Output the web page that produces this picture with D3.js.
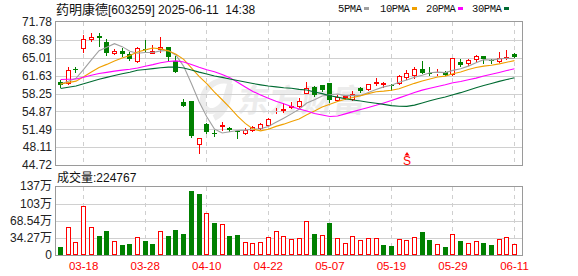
<!DOCTYPE html>
<html>
<head>
<meta charset="utf-8">
<script src="https://cdn.jsdelivr.net/npm/d3@7/dist/d3.min.js"></script>
<style>
  body { margin: 0; background: #fff; }
  svg { display: block; }
  text { font-family: "Liberation Sans", Arial, "Noto Sans CJK SC", sans-serif; }
</style>
</head>
<body>
<div id="chart-wrapper"></div>
<script>
// Data
const dates = [
  "03-13","03-14","03-17","03-18","03-19","03-20","03-21","03-24","03-25","03-26",
  "03-27","03-28","03-31","04-01","04-02","04-03","04-07","04-08","04-09","04-10",
  "04-11","04-14","04-15","04-16","04-17","04-18","04-21","04-22","04-23","04-24",
  "04-25","04-28","04-29","04-30","05-06","05-07","05-08","05-09","05-12","05-13",
  "05-14","05-15","05-16","05-19","05-20","05-21","05-22","05-23","05-26","05-27",
  "05-28","05-29","05-30","06-03","06-04","06-05","06-06","06-09","06-10","06-11"
];
const opens = [
  60.43,60.29,62.95,66.8,68.62,69.13,68.05,65.97,66.35,65.67,
  64.46,66.65,65.97,66.67,67.0,64.46,56.7,56.83,48.64,52.42,
  50.8,52.05,51.78,51.1,50.72,51.3,51.67,52.3,54.85,55.05,
  55.7,55.9,58.4,59.55,59.86,60.18,57.02,57.55,57.15,59.23,
  59.05,60.2,60.0,59.86,60.18,61.43,61.75,62.83,62.15,62.1,
  62.25,61.94,64.27,63.97,64.72,65.35,64.5,64.46,64.91,65.67
];
const highs = [
  60.81,63.32,63.32,69.32,69.64,69.64,68.51,66.67,66.8,66.05,
  67.11,68.37,67.43,69.0,67.11,65.35,57.21,56.83,49.77,52.61,
  51.34,52.92,51.9,51.15,51.67,52.1,52.73,53.56,55.45,56.4,
  56.7,57.34,60.48,59.7,59.95,60.29,57.97,57.97,58.72,59.54,
  60.1,61.13,60.35,60.05,61.75,62.7,63.32,64.4,63.21,62.83,
  62.45,65.0,64.78,64.78,65.54,65.35,64.72,66.16,66.48,65.86
];
const lows = [
  59.54,60.05,62.38,66.16,68.24,67.24,65.54,65.73,65.4,64.59,
  64.27,66.16,65.86,66.16,64.59,62.38,55.94,50.08,47.05,50.72,
  50.21,51.34,51.2,49.9,50.59,51.2,51.48,52.2,54.5,54.81,
  55.45,55.75,58.29,57.8,58.8,56.7,56.89,57.15,57.02,58.59,
  58.95,59.86,59.54,58.91,60.05,61.05,61.13,62.1,61.75,61.8,
  61.7,61.8,63.5,63.64,64.27,63.97,63.97,64.27,64.72,65.1
];
const closes = [
  59.92,62.7,62.85,68.51,69.0,68.7,65.86,66.35,65.67,64.72,
  66.8,66.55,66.35,67.11,65.1,62.38,55.94,50.21,49.77,51.02,
  50.72,52.25,51.29,51.02,51.34,51.82,52.42,53.37,55.0,55.25,
  55.9,56.89,59.23,57.97,58.91,57.02,57.65,57.72,58.16,58.72,
  59.99,60.35,60.29,59.67,61.56,62.19,62.82,62.19,62.07,62.19,
  61.75,64.91,63.7,64.59,65.35,64.72,64.46,64.91,65.1,65.22
];
// volume in 万 (10k lots)
const volumes = [
  16.6,56.0,26.6,98.6,56.0,38.6,48.6,28.6,20.6,22.6,
  36.0,28.6,22.6,48.6,38.6,50.6,42.6,128.6,123.2,84.0,
  65.2,62.6,38.6,40.6,26.6,24.6,26.6,36.6,48.6,38.6,
  32.6,34.6,68.6,42.6,40.6,65.2,34.6,24.6,38.6,30.6,
  34.6,34.6,20.6,18.6,32.6,30.6,36.6,46.6,30.6,22.6,
  16.6,42.6,28.6,24.6,28.6,24.6,20.6,32.6,36.6,22.48
];
const ma5 = [
  60.04,60.56,61.12,62.81,64.6,66.35,66.98,67.68,67.12,66.26,
  65.88,66.02,66.02,66.31,66.38,65.5,63.38,60.15,56.68,53.86,
  51.53,50.79,51.01,51.26,51.32,51.54,51.58,51.99,52.79,53.57,
  54.39,55.28,56.45,57.05,57.78,58.0,58.16,57.85,57.89,57.85,
  58.45,58.99,59.5,59.8,60.37,60.81,61.31,61.69,62.17,62.29,
  62.2,62.62,62.92,63.43,64.06,64.65,64.56,64.81,64.91,64.88
];
const ma10 = [
  60.05,60.31,60.59,61.43,62.32,63.18,63.76,64.39,64.95,65.42,
  66.12,66.5,66.85,66.7,66.32,65.69,64.7,63.08,61.49,60.12,
  58.51,57.07,55.57,53.96,52.59,51.52,51.18,51.5,52.03,52.45,
  52.97,53.44,54.23,54.93,55.69,56.2,56.72,57.16,57.48,57.82,
  58.23,58.58,58.7,58.88,59.14,59.66,60.17,60.62,61.01,61.36,
  61.54,61.99,62.31,62.8,63.18,63.43,63.59,63.86,64.17,64.47
];
const ma20 = [
  60.9,60.95,61.0,61.34,61.7,62.05,62.25,62.48,62.68,62.83,
  63.08,63.4,63.71,64.06,64.31,64.43,64.22,63.73,63.21,62.76,
  62.36,61.83,61.25,60.37,59.49,58.65,57.98,57.33,56.8,56.33,
  55.78,55.3,54.94,54.48,54.18,53.91,53.99,54.4,54.82,55.21,
  55.6,56.01,56.47,56.91,57.42,57.93,58.45,58.89,59.25,59.59,
  59.89,60.29,60.51,60.84,61.16,61.55,61.88,62.24,62.59,62.92
];
const ma30 = [
  59.2,59.43,59.67,60.09,60.53,60.96,61.3,61.65,61.98,62.28,
  62.64,62.8,62.95,63.13,63.24,63.26,63.07,62.69,62.29,61.93,
  61.56,61.3,61.01,60.71,60.42,60.14,59.89,59.67,59.5,59.33,
  59.23,59.03,58.91,58.55,58.22,57.83,57.56,57.27,57.02,56.82,
  56.6,56.39,56.19,55.95,55.83,55.82,56.05,56.47,56.88,57.26,
  57.58,58.0,58.41,58.87,59.34,59.76,60.16,60.55,60.89,61.22
];
const maNames = ["5PMA", "10PMA", "20PMA", "30PMA"];
const maColors = ["#a0a0a0", "#f0a000", "#ff00ff", "#006b32"];
const priceTicks = [71.78, 68.39, 65.01, 61.63, 58.25, 54.87, 51.49, 48.11, 44.72];
const volumeTicks = [137.08, 102.81, 68.54, 34.27, 0];
const volumeTickLabels = ["137万", "103万", "68.54万", "34.27万", "0"];
const dateTicks = ["03-18", "03-28", "04-10", "04-22", "05-07", "05-19", "05-29", "06-11"];
const signalDates = ["05-21"];
const signalLabels = ["S"];
const stockName = "药明康德";
const titleRest = "[603259] 2025-06-11  14:38";
const lastVolume = "224767";

const red = "#ff0000";
const green = "#008000";

// Chart dimensions
const dimensions = {
  width: 578,
  height: 276,
  left: 55,
  right: 522,
  price: { top: 22, bottom: 165 },
  volume: { top: 187, bottom: 255 },
};

const wrapper = d3
  .select("#chart-wrapper")
  .append("svg")
  .attr("width", dimensions.width)
  .attr("height", dimensions.height);

// Scales
const xScale = d3.scalePoint().domain(dates).range([60.6, 514.5]);
const yScale = d3
  .scaleLinear()
  .domain([44.72, 71.78])
  .range([dimensions.price.bottom, dimensions.price.top]);
const vScale = d3
  .scaleLinear()
  .domain([0, 137.08])
  .range([dimensions.volume.bottom, dimensions.volume.top]);

const px = (v) => Math.round(v) + 0.5;

// Watermark
const mark = wrapper.append("g").attr("fill", "#ececec");
mark
  .append("text")
  .attr("x", 238)
  .attr("y", 112)
  .attr("transform", "skewX(-8) translate(14,0)")
  .style("font-family", "'Noto Sans CJK SC', sans-serif")
  .style("font-weight", "bold")
  .style("font-size", "32px")
  .text("东方财富");
mark
  .append("path")
  .attr("fill", "none")
  .attr("stroke", "#ececec")
  .attr("stroke-width", 6)
  .attr("d", "M232,82 C215,76 198,92 204,106 C209,116 222,110 226,98 L230,84 C229,100 226,112 214,118");

// Grid lines
const grid = wrapper.append("g").attr("shape-rendering", "crispEdges");
grid
  .selectAll(".price-grid")
  .data(priceTicks.slice(1, -1))
  .join("line")
  .attr("x1", dimensions.left)
  .attr("x2", dimensions.right)
  .attr("y1", (d) => px(yScale(d)))
  .attr("y2", (d) => px(yScale(d)))
  .attr("stroke", "#d0d0d0");
grid
  .selectAll(".vol-grid")
  .data(volumeTicks.slice(1, -1))
  .join("line")
  .attr("x1", dimensions.left)
  .attr("x2", dimensions.right)
  .attr("y1", (d) => px(vScale(d)))
  .attr("y2", (d) => px(vScale(d)))
  .attr("stroke", "#d0d0d0");
[dimensions.price, dimensions.volume].forEach((panel) => {
  grid
    .append("g")
    .selectAll("line")
    .data(dateTicks)
    .join("line")
    .attr("x1", (d) => px(xScale(d) - 0.5))
    .attr("x2", (d) => px(xScale(d) - 0.5))
    .attr("y1", panel.top)
    .attr("y2", panel.bottom)
    .attr("stroke", "#cfcfcf")
    .attr("stroke-dasharray", "4,4");
  grid
    .append("rect")
    .attr("x", dimensions.left + 0.5)
    .attr("y", panel.top - 0.5)
    .attr("width", dimensions.right - dimensions.left)
    .attr("height", panel.bottom - panel.top + 1)
    .attr("fill", "none")
    .attr("stroke", "#9a9a9a");
});

// Candles
const bars = dates.map((d, i) => ({
  date: d,
  open: opens[i],
  high: highs[i],
  low: lows[i],
  close: closes[i],
  volume: volumes[i],
  up: i === 0 ? closes[i] >= opens[i] : closes[i] >= closes[i - 1],
}));

const candles = wrapper
  .append("g")
  .attr("shape-rendering", "crispEdges")
  .selectAll("g")
  .data(bars)
  .join("g");
candles.each(function (d) {
  const g = d3.select(this);
  const left = Math.round(xScale(d.date) - 2.5);
  const cx = left + 2.5;
  const rise = d.close >= d.open;
  const color = rise ? red : green;
  const top = Math.round(yScale(Math.max(d.open, d.close)));
  const bottom = Math.round(yScale(Math.min(d.open, d.close)));
  const hi = Math.round(yScale(d.high));
  const lo = Math.round(yScale(d.low));
  if (rise) {
    g.append("line").attr("x1", cx).attr("x2", cx).attr("y1", hi).attr("y2", top).attr("stroke", color);
    g.append("line").attr("x1", cx).attr("x2", cx).attr("y1", bottom + 1).attr("y2", lo + 1).attr("stroke", color);
    g.append("rect")
      .attr("x", left + 0.5)
      .attr("y", top + 0.5)
      .attr("width", 4)
      .attr("height", Math.max(bottom - top, 0))
      .attr("fill", "#fff")
      .attr("stroke", color);
  } else {
    g.append("line").attr("x1", cx).attr("x2", cx).attr("y1", hi).attr("y2", lo + 1).attr("stroke", color);
    g.append("rect")
      .attr("x", left)
      .attr("y", top)
      .attr("width", 5)
      .attr("height", Math.max(bottom - top, 1))
      .attr("fill", color);
  }
});

// Moving averages
const maSeries = [ma5, ma10, ma20, ma30];
const lineGenerator = d3
  .line()
  .x((d, i) => xScale(dates[i]))
  .y((d) => yScale(d));
wrapper
  .append("g")
  .selectAll("path")
  .data(maSeries)
  .join("path")
  .attr("d", (d) => lineGenerator(d))
  .attr("fill", "none")
  .attr("stroke", (d, i) => maColors[i])
  .attr("stroke-width", 1.1);

// Volume bars
const volumeBars = wrapper
  .append("g")
  .attr("shape-rendering", "crispEdges")
  .selectAll("rect")
  .data(bars)
  .join("rect")
  .each(function (d) {
    const left = Math.round(xScale(d.date) - 2.5);
    const top = Math.round(vScale(d.volume));
    const bottom = dimensions.volume.bottom;
    const r = d3.select(this);
    if (d.up) {
      r.attr("x", left + 0.5)
        .attr("y", top + 0.5)
        .attr("width", 4)
        .attr("height", bottom - top - 1)
        .attr("fill", "#fff")
        .attr("stroke", red);
    } else {
      r.attr("x", left)
        .attr("y", top)
        .attr("width", 5)
        .attr("height", bottom - top)
        .attr("fill", green);
    }
  });

// Signal marker
const signals = wrapper
  .append("g")
  .selectAll("g")
  .data(signalDates)
  .join("g")
  .attr("transform", (d) => `translate(${Math.round(xScale(d))},0)`);
signals.append("path").attr("d", "M-2.5,155.5 L2.5,155.5 L0,152 Z").attr("fill", red);
signals
  .append("text")
  .attr("y", 165)
  .attr("text-anchor", "middle")
  .attr("fill", red)
  .style("font-size", "12px")
  .text((d, i) => signalLabels[i]);

// Axes labels
const labels = wrapper.append("g").attr("fill", "#222");
labels
  .selectAll(".price-label")
  .data(priceTicks)
  .join("text")
  .attr("x", 52)
  .attr("y", (d) => yScale(d))
  .attr("dy", "0.36em")
  .attr("text-anchor", "end")
  .style("font-size", "12px")
  .text((d) => d.toFixed(2));
labels
  .selectAll(".vol-label")
  .data(volumeTicks)
  .join("text")
  .attr("x", 52)
  .attr("y", (d) => vScale(d) - (d === volumeTicks[0] ? 1.5 : 0))
  .attr("dy", "0.36em")
  .attr("text-anchor", "end")
  .style("font-size", "12px")
  .text((d, i) => volumeTickLabels[i]);
wrapper
  .append("g")
  .selectAll("text")
  .data(dateTicks)
  .join("text")
  .attr("x", (d) => xScale(d))
  .attr("y", 270)
  .attr("text-anchor", "middle")
  .attr("fill", red)
  .style("font-size", "11.5px")
  .text((d) => d);

// Title, volume caption and legend
const title = wrapper.append("text").attr("x", 56).attr("y", 14).attr("fill", "#111").style("font-size", "12px");
title.append("tspan").style("font-size", "13px").style("font-family", "'Noto Sans CJK SC', sans-serif").text(stockName);
title.append("tspan").style("white-space", "pre").attr("xml:space", "preserve").text(titleRest);

const caption = wrapper.append("text").attr("x", 57).attr("y", 182).attr("fill", "#111").style("font-size", "12px");
caption.append("tspan").style("font-family", "'Noto Sans CJK SC', sans-serif").text("成交量");
caption.append("tspan").text(":" + lastVolume);

const legendX = [338, 380, 426, 472];
const legend = wrapper
  .append("g")
  .selectAll("g")
  .data(maNames)
  .join("g")
  .attr("transform", (d, i) => `translate(${legendX[i]},0)`);
legend
  .append("text")
  .attr("y", 12)
  .attr("fill", "#111")
  .style("font-family", "'Liberation Mono', monospace")
  .style("font-size", "10.5px")
  .style("letter-spacing", "-0.4px")
  .text((d) => d);
legend
  .append("rect")
  .attr("x", (d) => d.length * 6 + 2)
  .attr("y", 7)
  .attr("width", 5)
  .attr("height", 3)
  .attr("fill", (d, i) => maColors[i]);
</script>
</body>
</html>
